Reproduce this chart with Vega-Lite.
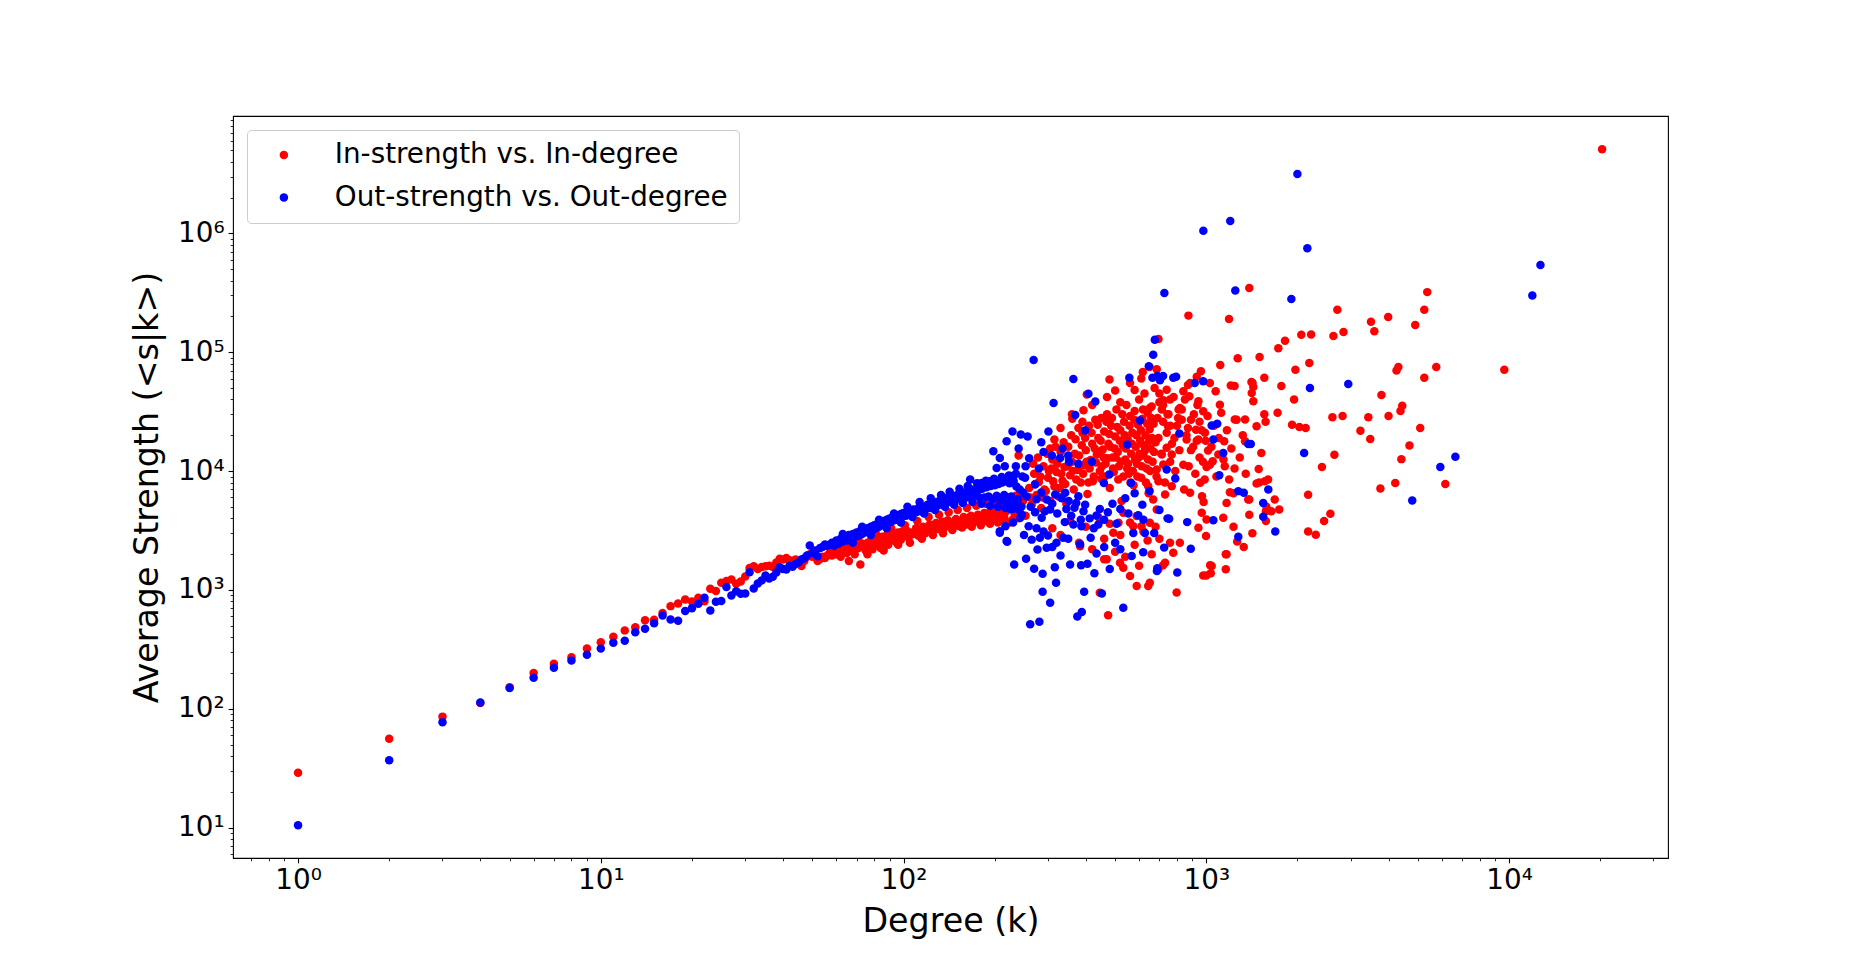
{
  "$schema": "https://vega.github.io/schema/vega-lite/v6.json",
  "description": "Average strength vs degree, in and out, log-log scatter.",
  "width": 1435,
  "height": 742,
  "autosize": {"type": "none"},
  "padding": {"left": 233, "top": 116, "right": 185, "bottom": 106},
  "background": "white",
  "config": {
    "view": {"stroke": "black", "strokeWidth": 1.1},
    "font": "DejaVu Sans",
    "axis": {
      "domain": false,
      "grid": false,
      "labelFont": "DejaVu Sans",
      "labelFontSize": 27.8,
      "labelColor": "black",
      "labelOverlap": false,
      "labelFlush": false,
      "tickColor": "black",
      "titleFont": "DejaVu Sans",
      "titleFontSize": 33.3,
      "titleFontWeight": "normal",
      "titleColor": "black"
    },
    "legend": {
      "orient": "top-left",
      "offset": 14,
      "padding": 11,
      "fillColor": "rgba(255,255,255,0.8)",
      "strokeColor": "#cccccc",
      "cornerRadius": 4,
      "labelFont": "DejaVu Sans",
      "labelFontSize": 27.8,
      "labelColor": "black",
      "labelLimit": 800,
      "symbolType": "circle",
      "symbolSize": 72,
      "symbolStrokeWidth": 0,
      "symbolOffset": 12,
      "labelOffset": 37,
      "rowPadding": 13.7
    }
  },
  "encoding": {
    "x": {
      "field": "k",
      "type": "quantitative",
      "scale": {"type": "log", "domain": [0.6097, 33510], "nice": false},
      "axis": {
        "title": "Degree (k)",
        "titlePadding": 11,
        "labelPadding": 4,
        "values": [0.7, 0.8, 0.9, 1, 2, 3, 4, 5, 6, 7, 8, 9, 10, 20, 30, 40, 50, 60, 70, 80, 90, 100, 200, 300, 400, 500, 600, 700, 800, 900, 1000, 2000, 3000, 4000, 5000, 6000, 7000, 8000, 9000, 10000, 20000, 30000],
        "labelExpr": "abs(log(datum.value)/LN10 - round(log(datum.value)/LN10)) < 1e-6 ? '10' + substring('⁰¹²³⁴⁵⁶⁷⁸⁹', round(log(datum.value)/LN10), round(log(datum.value)/LN10) + 1) : ''",
        "tickSize": {"condition": {"test": "abs(log(datum.value)/LN10 - round(log(datum.value)/LN10)) < 1e-6", "value": 4.9}, "value": 2.8},
        "tickWidth": {"condition": {"test": "abs(log(datum.value)/LN10 - round(log(datum.value)/LN10)) < 1e-6", "value": 1.1}, "value": 0.85}
      }
    },
    "y": {
      "field": "s",
      "type": "quantitative",
      "scale": {"type": "log", "domain": [5.563, 9696000], "nice": false},
      "axis": {
        "title": "Average Strength (<s|k>)",
        "titlePadding": 13,
        "labelPadding": 4,
        "values": [6, 7, 8, 9, 10, 20, 30, 40, 50, 60, 70, 80, 90, 100, 200, 300, 400, 500, 600, 700, 800, 900, 1000, 2000, 3000, 4000, 5000, 6000, 7000, 8000, 9000, 10000, 20000, 30000, 40000, 50000, 60000, 70000, 80000, 90000, 100000, 200000, 300000, 400000, 500000, 600000, 700000, 800000, 900000, 1000000, 2000000, 3000000, 4000000, 5000000, 6000000, 7000000, 8000000, 9000000],
        "labelExpr": "abs(log(datum.value)/LN10 - round(log(datum.value)/LN10)) < 1e-6 ? '10' + substring('⁰¹²³⁴⁵⁶⁷⁸⁹', round(log(datum.value)/LN10), round(log(datum.value)/LN10) + 1) : ''",
        "tickSize": {"condition": {"test": "abs(log(datum.value)/LN10 - round(log(datum.value)/LN10)) < 1e-6", "value": 4.9}, "value": 2.8},
        "tickWidth": {"condition": {"test": "abs(log(datum.value)/LN10 - round(log(datum.value)/LN10)) < 1e-6", "value": 1.1}, "value": 0.85}
      }
    }
  },
  "layer": [
    {
      "data": {"values": [
        {"k":1,"s":29},{"k":2,"s":56},{"k":3,"s":86},{"k":4,"s":112},{"k":5,"s":152},{"k":6,"s":200},{"k":7,"s":240},{"k":8,"s":272},{"k":9,"s":322},{"k":10,"s":364},
        {"k":11,"s":404},{"k":12,"s":457},{"k":13,"s":486},{"k":14,"s":555},{"k":15,"s":562},{"k":16,"s":640},{"k":17,"s":731},{"k":18,"s":769},{"k":19,"s":831},{"k":20,"s":800},
        {"k":21,"s":860},{"k":22,"s":805},{"k":23,"s":1025},{"k":24,"s":980},{"k":25,"s":1150},{"k":26,"s":1190},{"k":27,"s":1225},{"k":28,"s":1130},{"k":29,"s":1180},{"k":30,"s":1300},
        {"k":31,"s":1530},{"k":32,"s":1580},{"k":33,"s":1500},{"k":34,"s":1560},{"k":35,"s":1580},{"k":36,"s":1600},{"k":37,"s":1560},{"k":38,"s":1700},{"k":39,"s":1830},{"k":40,"s":1800},
        {"k":41,"s":1860},{"k":42,"s":1780},{"k":43,"s":1750},{"k":44,"s":1800},{"k":45,"s":1700},{"k":46,"s":1590},{"k":47,"s":1750},{"k":48,"s":1900},{"k":49,"s":2000},{"k":50,"s":1900},
        {"k":51,"s":1950},{"k":52,"s":1750},{"k":53,"s":1820},{"k":54,"s":1900},{"k":55,"s":1860},{"k":56,"s":1950},{"k":57,"s":2050},
        {"k":58,"s":1950},{"k":59,"s":2150},{"k":60,"s":2000},{"k":61,"s":2250},{"k":62,"s":1900},{"k":63,"s":2100},{"k":64,"s":2300},{"k":65,"s":2050},{"k":66,"s":2200},{"k":67,"s":2400},
        {"k":68,"s":2150},{"k":69,"s":2000},{"k":70,"s":2350},{"k":71,"s":2250},{"k":72,"s":1640},{"k":73,"s":2450},{"k":74,"s":2300},{"k":75,"s":2150},{"k":76,"s":2500},{"k":77,"s":2350},
        {"k":78,"s":2600},{"k":79,"s":2200},{"k":80,"s":2450},{"k":81,"s":2700},{"k":82,"s":2400},{"k":83,"s":2550},{"k":84,"s":2250},{"k":85,"s":2800},{"k":86,"s":2500},{"k":87,"s":2650},
        {"k":88,"s":2900},{"k":89,"s":2400},{"k":90,"s":2750},{"k":91,"s":2600},{"k":92,"s":3000},{"k":93,"s":2700},{"k":94,"s":2850},{"k":95,"s":2500},{"k":96,"s":3050},{"k":97,"s":2800},
        {"k":98,"s":2650},{"k":99,"s":3100},{"k":100,"s":2900},{"k":102,"s":3200},{"k":104,"s":2750},{"k":106,"s":3050},{"k":108,"s":2950},{"k":110,"s":3300},{"k":112,"s":2850},{"k":114,"s":3150},
        {"k":116,"s":3400},{"k":118,"s":3000},{"k":120,"s":3250},{"k":122,"s":3550},{"k":124,"s":3100},{"k":126,"s":3400},{"k":128,"s":3650},{"k":130,"s":3250},{"k":132,"s":3500},{"k":134,"s":3750},
        {"k":136,"s":3300},{"k":138,"s":3600},{"k":140,"s":3850},{"k":143,"s":3400},{"k":146,"s":3700},{"k":149,"s":3950},{"k":152,"s":3450},{"k":155,"s":3800},{"k":158,"s":4100},{"k":161,"s":3550},
        {"k":164,"s":3900},{"k":167,"s":4200},{"k":170,"s":3650},{"k":173,"s":4000},{"k":176,"s":4300},{"k":179,"s":3700},{"k":182,"s":4100},{"k":185,"s":4450},{"k":188,"s":3800},{"k":191,"s":4200},
        {"k":194,"s":4550},{"k":197,"s":3900},{"k":200,"s":4350},{"k":203,"s":4700},{"k":206,"s":4000},{"k":209,"s":4500},{"k":212,"s":4900},{"k":215,"s":4100},{"k":218,"s":4600},{"k":221,"s":5000},
        {"k":224,"s":3700},{"k":227,"s":4750},{"k":230,"s":5200},{"k":233,"s":4300},{"k":236,"s":4900},{"k":239,"s":5400},{"k":242,"s":4400},{"k":245,"s":5100},{"k":248,"s":5600},
        {"k":62,"s":2500},{"k":66,"s":1750},{"k":71,"s":2700},{"k":76,"s":2000},{"k":81,"s":3000},{"k":86,"s":2150},{"k":91,"s":3300},{"k":96,"s":2400},{"k":101,"s":3500},{"k":105,"s":2500},
        {"k":111,"s":3800},{"k":115,"s":2700},{"k":121,"s":4100},{"k":125,"s":2900},{"k":131,"s":4300},{"k":135,"s":3000},{"k":141,"s":4500},{"k":145,"s":3200},{"k":151,"s":4700},{"k":156,"s":3350},
        {"k":162,"s":4900},{"k":168,"s":3400},{"k":174,"s":5100},{"k":180,"s":3500},{"k":187,"s":5300},{"k":193,"s":3600},{"k":199,"s":5500},{"k":205,"s":3700},{"k":211,"s":5700},{"k":217,"s":3800},
        {"k":223,"s":6000},{"k":229,"s":3900},{"k":235,"s":6200},{"k":241,"s":4000},{"k":247,"s":6500},{"k":253,"s":4200},
        {"k":695,"s":129000},{"k":617,"s":68000},{"k":686,"s":72000},{"k":479,"s":59000},{"k":500,"s":47500},{"k":393,"s":32400},{"k":361,"s":27500},{"k":403,"s":44000},{"k":240,"s":13500},{"k":315,"s":18400},{"k":305,"s":15500},
        {"k":884,"s":6560},{"k":968,"s":6150},{"k":955,"s":7960},{"k":988,"s":8500},{"k":840,"s":11300},{"k":942,"s":18400},{"k":861,"s":18400},{"k":925,"s":22300},{"k":977,"s":31800},{"k":942,"s":38600},
        {"k":879,"s":42600},{"k":884,"s":55000},{"k":818,"s":34000},{"k":840,"s":46900},{"k":740,"s":48400},{"k":721,"s":39400},{"k":713,"s":32900},{"k":759,"s":39900},{"k":807,"s":28000},{"k":748,"s":23800},{"k":651,"s":34000},
        {"k":713,"s":13800},{"k":740,"s":15700},{"k":769,"s":13800},{"k":721,"s":11350},{"k":686,"s":10300},{"k":769,"s":7460},{"k":731,"s":6350},{"k":695,"s":8220},{"k":643,"s":7460},{"k":668,"s":5770},
        {"k":686,"s":4750},{"k":651,"s":3670},{"k":611,"s":3440},{"k":589,"s":4180},{"k":574,"s":3440},{"k":532,"s":4460},{"k":513,"s":3670},{"k":493,"s":3030},{"k":469,"s":1810},{"k":519,"s":1690},
        {"k":560,"s":1310},{"k":589,"s":1080},{"k":643,"s":1080},{"k":651,"s":1150},{"k":532,"s":1540},{"k":695,"s":1490},{"k":759,"s":2500},{"k":818,"s":2500},{"k":778,"s":2060},{"k":731,"s":1690},
        {"k":474,"s":612},{"k":445,"s":948},{"k":383,"s":2330},{"k":460,"s":1810},{"k":798,"s":950},{"k":966,"s":4460},{"k":942,"s":3330},{"k":998,"s":2840},{"k":977,"s":1320},{"k":873,"s":203000},
        {"k":960,"s":69000},{"k":930,"s":62000},{"k":870,"s":53000},{"k":720,"s":1610},
        {"k":260,"s":7200},{"k":265,"s":5200},{"k":270,"s":9500},{"k":275,"s":6300},{"k":280,"s":8100},{"k":285,"s":4900},{"k":290,"s":11000},{"k":295,"s":6800},{"k":300,"s":8800},{"k":305,"s":5600},
        {"k":310,"s":12500},{"k":315,"s":7400},{"k":320,"s":9800},{"k":325,"s":6100},{"k":330,"s":14500},{"k":335,"s":8300},{"k":340,"s":10800},{"k":345,"s":5300},{"k":350,"s":16000},{"k":355,"s":9200},
        {"k":360,"s":12000},{"k":365,"s":7000},{"k":370,"s":18500},{"k":375,"s":10200},{"k":380,"s":13500},{"k":385,"s":8000},{"k":390,"s":21000},{"k":395,"s":11200},{"k":400,"s":15000},{"k":405,"s":6400},
        {"k":410,"s":24000},{"k":415,"s":12400},{"k":420,"s":17000},{"k":425,"s":9000},{"k":430,"s":27000},{"k":435,"s":13800},{"k":440,"s":19000},{"k":445,"s":10000},{"k":450,"s":8600},{"k":455,"s":15200},
        {"k":460,"s":21500},{"k":465,"s":11500},{"k":470,"s":30000},{"k":475,"s":17000},{"k":480,"s":7200},{"k":485,"s":24000},{"k":490,"s":13000},{"k":495,"s":9800},{"k":500,"s":19500},{"k":505,"s":33000},
        {"k":510,"s":14500},{"k":515,"s":11000},{"k":520,"s":22000},{"k":525,"s":5600},{"k":530,"s":16500},{"k":535,"s":26000},{"k":540,"s":12500},{"k":545,"s":36000},{"k":550,"s":18500},{"k":555,"s":9500},
        {"k":560,"s":29000},{"k":565,"s":14000},{"k":570,"s":21000},{"k":575,"s":7600},{"k":580,"s":32000},{"k":585,"s":16000},{"k":590,"s":11500},{"k":595,"s":24500},{"k":600,"s":40000},{"k":605,"s":18000},
        {"k":610,"s":8800},{"k":615,"s":27500},{"k":620,"s":13500},{"k":625,"s":45000},{"k":630,"s":20000},{"k":635,"s":10500},{"k":640,"s":31000},{"k":645,"s":6500},{"k":650,"s":22500},{"k":655,"s":15500},
        {"k":660,"s":35000},{"k":665,"s":12000},{"k":670,"s":25000},{"k":675,"s":50000},{"k":680,"s":17500},{"k":685,"s":9000},{"k":690,"s":28000},{"k":695,"s":19000},{"k":700,"s":38000},{"k":710,"s":14000},
        {"k":720,"s":26000},{"k":730,"s":8000},{"k":740,"s":21000},{"k":750,"s":30000},{"k":760,"s":12000},{"k":770,"s":17000},{"k":780,"s":42000},{"k":790,"s":10000},{"k":800,"s":24000},{"k":815,"s":15000},
        {"k":830,"s":33000},{"k":845,"s":7000},{"k":860,"s":20000},{"k":875,"s":11000},{"k":890,"s":27000},{"k":905,"s":16000},{"k":920,"s":9500},{"k":935,"s":36000},{"k":950,"s":13000},{"k":965,"s":22000},
        {"k":980,"s":5500},{"k":995,"s":18000},
        {"k":310,"s":3300},{"k":330,"s":2900},{"k":355,"s":3800},{"k":380,"s":2500},{"k":400,"s":3400},{"k":420,"s":2200},{"k":440,"s":4100},{"k":460,"s":2700},{"k":480,"s":3600},{"k":500,"s":2100},
        {"k":520,"s":2900},{"k":540,"s":1900},{"k":560,"s":3700},{"k":580,"s":2400},{"k":600,"s":1600},{"k":620,"s":3100},{"k":640,"s":2600},{"k":660,"s":2000},{"k":680,"s":3400},{"k":700,"s":2700},
        {"k":262,"s":6000},{"k":272,"s":7800},{"k":283,"s":9000},{"k":292,"s":7000},{"k":302,"s":10000},{"k":312,"s":8200},{"k":322,"s":11500},{"k":332,"s":9500},{"k":342,"s":7800},{"k":352,"s":12500},
        {"k":362,"s":10000},{"k":372,"s":8500},{"k":382,"s":11000},{"k":392,"s":9500},{"k":402,"s":12000},{"k":412,"s":10500},{"k":422,"s":8200},{"k":432,"s":11800},{"k":442,"s":14500},{"k":452,"s":11000},
        {"k":462,"s":9000},{"k":472,"s":12800},{"k":482,"s":16000},{"k":492,"s":10500},{"k":502,"s":13000},{"k":512,"s":8500},{"k":522,"s":12000},{"k":532,"s":9000},{"k":542,"s":15500},{"k":552,"s":11500},
        {"k":562,"s":8000},{"k":572,"s":10000},{"k":582,"s":12500},{"k":592,"s":9000},{"k":602,"s":14000},{"k":612,"s":11000},{"k":622,"s":16500},{"k":632,"s":8000},{"k":642,"s":12500},{"k":652,"s":10000},
        {"k":662,"s":19000},{"k":672,"s":14500},
        {"k":268,"s":11500},{"k":278,"s":13000},{"k":288,"s":6000},{"k":298,"s":14000},{"k":308,"s":10500},{"k":318,"s":16000},{"k":328,"s":7200},{"k":338,"s":17500},{"k":348,"s":11000},{"k":358,"s":20000},
        {"k":368,"s":14000},{"k":378,"s":23000},{"k":388,"s":16500},{"k":398,"s":19000},{"k":408,"s":8000},{"k":418,"s":21000},{"k":428,"s":15500},{"k":438,"s":24500},{"k":448,"s":18000},{"k":458,"s":13000},
        {"k":468,"s":26000},{"k":478,"s":20500},{"k":488,"s":28000},{"k":498,"s":15500},{"k":508,"s":23500},{"k":518,"s":18000},{"k":528,"s":30000},{"k":538,"s":20000},{"k":548,"s":10500},{"k":558,"s":24000},
        {"k":568,"s":17000},{"k":578,"s":27000},{"k":588,"s":20000},{"k":598,"s":13000},{"k":608,"s":22000},{"k":618,"s":33000},{"k":628,"s":15000},{"k":638,"s":25000},{"k":648,"s":18000},{"k":658,"s":28000},
        {"k":330,"s":23000},{"k":360,"s":30000},{"k":420,"s":36000},{"k":450,"s":28000},{"k":470,"s":42000},{"k":390,"s":26000},{"k":560,"s":55000},{"k":520,"s":38000},{"k":610,"s":60000},{"k":650,"s":75000},{"k":580,"s":48000},
        {"k":700,"s":45000},{"k":720,"s":36000},{"k":745,"s":30000},{"k":760,"s":24000},{"k":785,"s":19000},{"k":810,"s":33000},{"k":830,"s":27000},{"k":850,"s":40000},{"k":870,"s":23000},{"k":890,"s":15000},
        {"k":910,"s":30000},{"k":930,"s":18000},{"k":950,"s":26000},{"k":975,"s":12000},{"k":990,"s":21000},{"k":1010,"s":29000},{"k":1040,"s":16000},{"k":1060,"s":24000},{"k":1080,"s":9000},{"k":1100,"s":19000},
        {"k":1120,"s":31000},{"k":1140,"s":12500},{"k":1170,"s":22000},{"k":1190,"s":8500},{"k":1210,"s":15500},{"k":1240,"s":10500},{"k":1260,"s":27000},{"k":1290,"s":13000},{"k":1320,"s":20000},{"k":1350,"s":9500},
        {"k":20300,"s":5100000},{"k":1387,"s":347000},{"k":1189,"s":190000},{"k":5370,"s":320000},{"k":5250,"s":227000},{"k":2710,"s":227000},{"k":3990,"s":198000},{"k":4900,"s":169000},{"k":3500,"s":180000},{"k":3590,"s":150000},
        {"k":2630,"s":137000},{"k":2840,"s":148000},{"k":2060,"s":140000},{"k":2220,"s":141000},{"k":1820,"s":125000},{"k":1730,"s":108000},{"k":1500,"s":91000},{"k":1270,"s":89000},{"k":1112,"s":78000},{"k":2190,"s":81000},
        {"k":1970,"s":71000},{"k":9650,"s":71000},{"k":4310,"s":75000},{"k":4250,"s":70000},{"k":5750,"s":75000},{"k":5250,"s":61000},{"k":1555,"s":61000},{"k":1240,"s":52000},{"k":1770,"s":52000},{"k":1410,"s":56000},
        {"k":1430,"s":51000},{"k":3790,"s":43700},{"k":1950,"s":40000},{"k":4440,"s":35500},{"k":4380,"s":32000},{"k":4000,"s":29000},{"k":1720,"s":31000},{"k":1555,"s":30000},{"k":1570,"s":26000},{"k":2610,"s":28300},
        {"k":2820,"s":29000},{"k":3430,"s":28300},{"k":5090,"s":23000},{"k":1920,"s":24500},{"k":2030,"s":23500},{"k":2130,"s":23000},{"k":3230,"s":21800},{"k":3480,"s":18600},{"k":4690,"s":16400},{"k":4410,"s":12600},
        {"k":6160,"s":7800},{"k":4210,"s":7950},{"k":3760,"s":7130},{"k":2650,"s":13700},{"k":2410,"s":10800},{"k":2170,"s":6310},{"k":2570,"s":4370},{"k":2450,"s":3800},{"k":2170,"s":3100},{"k":2300,"s":2910},
        {"k":1520,"s":14200},{"k":1490,"s":10400},{"k":1495,"s":8000},{"k":1560,"s":8200},{"k":1580,"s":5000},{"k":1640,"s":4600},{"k":1387,"s":4300},{"k":1387,"s":5760},{"k":1230,"s":6500},{"k":1265,"s":2560},
        {"k":1160,"s":2000},{"k":1160,"s":1490},{"k":1030,"s":1610},{"k":1035,"s":1380},{"k":1000,"s":1320},{"k":1330,"s":2300},{"k":1420,"s":3000},{"k":1230,"s":3400},
        {"k":1343,"s":27100},{"k":1242,"s":27100},{"k":1205,"s":52400},{"k":1466,"s":23800},{"k":1430,"s":38600},{"k":1413,"s":45400},{"k":1422,"s":55000},{"k":1343,"s":17800},{"k":1197,"s":6640},{"k":1167,"s":5400},
        {"k":1138,"s":4050},{"k":1167,"s":2000},{"k":1042,"s":1590},{"k":1002,"s":3920},{"k":1002,"s":10800},{"k":1028,"s":11300},{"k":1151,"s":11000},{"k":1050,"s":12100},{"k":1096,"s":13800},{"k":1146,"s":17800},
        {"k":1014,"s":14900},{"k":1028,"s":55000},{"k":1074,"s":46900},{"k":1109,"s":36200},{"k":1600,"s":8500},{"k":1466,"s":7870},{"k":1376,"s":5770},{"k":1574,"s":4600},{"k":1742,"s":4750},{"k":1683,"s":5770},
        {"k":1574,"s":3800}
      ]},
      "mark": {"type": "circle", "size": 72, "opacity": 1},
      "encoding": {
        "color": {
          "datum": "In-strength vs. In-degree",
          "type": "nominal",
          "scale": {"domain": ["In-strength vs. In-degree", "Out-strength vs. Out-degree"], "range": ["#ff0000", "#0000ff"]},
          "legend": {"title": null}
        }
      }
    },
    {
      "data": {"values": [
        {"k":1,"s":10.5},{"k":2,"s":37},{"k":3,"s":77},{"k":4,"s":113},{"k":5,"s":150},{"k":6,"s":183},{"k":7,"s":222},{"k":8,"s":255},{"k":9,"s":285},{"k":10,"s":321},
        {"k":11,"s":360},{"k":12,"s":374},{"k":13,"s":441},{"k":14,"s":472},{"k":15,"s":524},{"k":16,"s":611},{"k":17,"s":563},{"k":18,"s":550},{"k":19,"s":664},{"k":20,"s":703},
        {"k":21,"s":765},{"k":22,"s":860},{"k":23,"s":673},{"k":24,"s":796},{"k":25,"s":806},{"k":26,"s":1057},{"k":27,"s":900},{"k":28,"s":977},{"k":29,"s":930},{"k":30,"s":934},
        {"k":31,"s":1410},{"k":32,"s":1028},{"k":33,"s":1133},{"k":34,"s":1200},{"k":35,"s":1324},{"k":36,"s":1250},{"k":37,"s":1289},{"k":38,"s":1400},{"k":39,"s":1555},{"k":40,"s":1500},
        {"k":41,"s":1486},{"k":42,"s":1600},{"k":43,"s":1564},{"k":44,"s":1650},{"k":45,"s":1700},{"k":46,"s":1804},{"k":47,"s":1850},{"k":48,"s":1950},{"k":49,"s":2365},{"k":50,"s":2050},
        {"k":51,"s":2150},{"k":52,"s":1923},{"k":53,"s":2250},{"k":54,"s":2300},{"k":55,"s":2410},{"k":56,"s":2350},{"k":57,"s":2400},
        {"k":58,"s":2500},{"k":59,"s":2350},{"k":60,"s":2600},{"k":61,"s":2450},{"k":62,"s":2700},{"k":63,"s":2550},{"k":64,"s":2800},{"k":65,"s":2600},{"k":66,"s":2900},{"k":67,"s":2700},
        {"k":68,"s":2950},{"k":69,"s":2800},{"k":70,"s":3050},{"k":71,"s":2850},{"k":72,"s":3150},{"k":73,"s":2950},{"k":74,"s":3250},{"k":75,"s":3050},{"k":76,"s":3300},{"k":77,"s":3150},
        {"k":78,"s":3400},{"k":79,"s":3200},{"k":80,"s":3500},{"k":81,"s":3300},{"k":82,"s":3600},{"k":83,"s":3400},{"k":84,"s":3700},{"k":85,"s":3500},{"k":86,"s":3800},{"k":87,"s":3550},
        {"k":88,"s":3900},{"k":89,"s":3650},{"k":90,"s":4000},{"k":91,"s":3750},{"k":92,"s":4100},{"k":93,"s":3850},{"k":94,"s":4150},{"k":95,"s":3900},{"k":96,"s":4250},{"k":97,"s":4000},
        {"k":98,"s":4350},{"k":99,"s":4100},{"k":100,"s":4450},{"k":102,"s":4200},{"k":104,"s":4600},{"k":106,"s":4350},{"k":108,"s":4750},{"k":110,"s":4500},{"k":112,"s":4900},{"k":114,"s":4600},
        {"k":116,"s":5000},{"k":118,"s":4750},{"k":120,"s":5200},{"k":122,"s":4900},{"k":124,"s":5350},{"k":126,"s":5000},{"k":128,"s":5500},{"k":130,"s":5150},{"k":132,"s":5650},{"k":134,"s":5300},
        {"k":136,"s":5800},{"k":138,"s":5400},{"k":140,"s":6000},{"k":143,"s":5500},{"k":146,"s":6200},{"k":149,"s":5700},{"k":152,"s":6400},{"k":155,"s":5850},{"k":158,"s":6600},{"k":161,"s":6000},
        {"k":164,"s":6800},{"k":167,"s":6100},{"k":170,"s":7000},{"k":173,"s":6250},{"k":176,"s":6800},{"k":179,"s":5900},{"k":182,"s":7100},{"k":185,"s":6000},{"k":188,"s":7300},{"k":191,"s":6100},
        {"k":194,"s":7500},{"k":197,"s":5800},{"k":200,"s":7600},{"k":203,"s":6200},{"k":206,"s":7800},{"k":209,"s":5600},{"k":212,"s":8000},{"k":215,"s":6300},{"k":218,"s":8200},{"k":221,"s":5500},
        {"k":224,"s":7900},{"k":227,"s":6100},{"k":230,"s":8400},{"k":233,"s":5300},{"k":236,"s":7400},{"k":239,"s":5800},{"k":242,"s":7000},{"k":245,"s":5000},{"k":248,"s":6600},
        {"k":63,"s":2950},{"k":68,"s":2500},{"k":73,"s":3400},{"k":78,"s":2900},{"k":83,"s":3900},{"k":88,"s":3300},{"k":93,"s":4400},{"k":98,"s":3700},{"k":103,"s":5000},{"k":107,"s":4100},
        {"k":113,"s":5500},{"k":117,"s":4400},{"k":123,"s":5900},{"k":127,"s":4700},{"k":133,"s":6300},{"k":137,"s":5000},{"k":142,"s":6700},{"k":147,"s":5200},{"k":153,"s":7100},{"k":157,"s":5400},
        {"k":163,"s":7500},{"k":169,"s":5500},{"k":175,"s":7900},{"k":181,"s":5300},{"k":187,"s":8300},{"k":193,"s":5100},{"k":199,"s":8600},{"k":205,"s":5000},{"k":211,"s":8900},{"k":217,"s":4900},
        {"k":223,"s":9200},{"k":229,"s":4800},{"k":235,"s":9500},{"k":241,"s":4700},{"k":247,"s":9000},
        {"k":219,"s":17800},{"k":198,"s":14700},{"k":208,"s":12900},{"k":203,"s":10600},{"k":216,"s":11000},{"k":166,"s":8500},{"k":181,"s":7940},{"k":219,"s":2580},{"k":232,"s":1640},{"k":208,"s":3030},
        {"k":269,"s":86000},{"k":364,"s":59600},{"k":313,"s":37400},{"k":408,"s":44800},{"k":430,"s":38400},{"k":369,"s":29600},{"k":398,"s":21900},{"k":301,"s":21500},{"k":229,"s":21500},{"k":244,"s":20300},
        {"k":257,"s":19500},{"k":260,"s":12800},{"k":235,"s":11000},{"k":253,"s":11000},{"k":335,"s":15500},{"k":309,"s":13500},{"k":329,"s":12900},{"k":352,"s":11900},{"k":378,"s":11500},{"k":419,"s":12000},
        {"k":604,"s":26600},{"k":815,"s":20700},{"k":548,"s":16700},{"k":478,"s":9350},{"k":459,"s":7950},{"k":564,"s":7950},{"k":740,"s":10300},{"k":790,"s":8650},{"k":916,"s":55000},{"k":977,"s":57000},
        {"k":676,"s":127000},{"k":668,"s":95000},{"k":646,"s":76000},{"k":664,"s":61000},{"k":703,"s":58000},{"k":557,"s":61000},{"k":778,"s":61000},{"k":1042,"s":24200},{"k":1087,"s":25000},{"k":1055,"s":18400},
        {"k":1138,"s":14200},{"k":1104,"s":9230},{"k":1376,"s":16900},{"k":1403,"s":16900},{"k":1276,"s":6780},{"k":1330,"s":6560},{"k":1603,"s":7000},{"k":1542,"s":5400},{"k":1542,"s":4130},{"k":1690,"s":3100},
        {"k":1276,"s":2800},{"k":2200,"s":50000},{"k":2105,"s":14200},{"k":2945,"s":54000},{"k":1055,"s":3850},{"k":889,"s":2220},{"k":865,"s":3720},{"k":754,"s":3970},{"k":726,"s":2270},{"k":689,"s":1520},
        {"k":802,"s":1400},{"k":619,"s":2080},{"k":567,"s":1930},{"k":673,"s":3020},{"k":627,"s":3020},{"k":574,"s":3020},{"k":596,"s":4250},{"k":553,"s":4390},{"k":615,"s":5220},{"k":532,"s":710},
        {"k":452,"s":935},{"k":395,"s":966},{"k":388,"s":653},{"k":375,"s":597},{"k":281,"s":541},{"k":262,"s":514},{"k":305,"s":780},{"k":288,"s":966},{"k":319,"s":1150},{"k":288,"s":1370},
        {"k":270,"s":1510},{"k":254,"s":1830},{"k":316,"s":1550},{"k":355,"s":1640},{"k":386,"s":1610},{"k":405,"s":1660},{"k":427,"s":1380},{"k":434,"s":2030},{"k":383,"s":2420},{"k":337,"s":2750},
        {"k":320,"s":2490},{"k":277,"s":2190},{"k":297,"s":2260},{"k":265,"s":2650},{"k":282,"s":2750},{"k":300,"s":2870},{"k":220,"s":2540},{"k":208,"s":3120},{"k":217,"s":3440},{"k":341,"s":3720},
        {"k":364,"s":3550},{"k":387,"s":3440},{"k":434,"s":4220},{"k":440,"s":3550},{"k":473,"s":4510},{"k":393,"s":4600},{"k":317,"s":6350},{"k":342,"s":6560},{"k":351,"s":5590},{"k":367,"s":4910},
        {"k":378,"s":6150},{"k":297,"s":5770},{"k":305,"s":4750},{"k":286,"s":4050},{"k":272,"s":4510},{"k":259,"s":3440},{"k":243,"s":4050},{"k":272,"s":7710},{"k":252,"s":8770},{"k":231,"s":8220},
        {"k":208,"s":7960},{"k":193,"s":8220},
        {"k":225,"s":4800},{"k":235,"s":5600},{"k":246,"s":4300},{"k":255,"s":6100},{"k":263,"s":5000},{"k":275,"s":5800},{"k":285,"s":6600},{"k":293,"s":4600},{"k":310,"s":5300},{"k":322,"s":4400},
        {"k":333,"s":5900},{"k":345,"s":4800},{"k":358,"s":4200},{"k":372,"s":5400},{"k":385,"s":3900},{"k":398,"s":5200},{"k":412,"s":4000},{"k":425,"s":3300},{"k":445,"s":4800},{"k":460,"s":3900},
        {"k":490,"s":5300},{"k":505,"s":3600},{"k":520,"s":4800},{"k":540,"s":5900},{"k":580,"s":6500},{"k":620,"s":3900},{"k":650,"s":6800},{"k":700,"s":4700},{"k":230,"s":3700},{"k":250,"s":2900},
        {"k":275,"s":3300},{"k":290,"s":3100},{"k":310,"s":2300},{"k":330,"s":1950},{"k":350,"s":2700},{"k":415,"s":2750},{"k":460,"s":2300},{"k":500,"s":2500},{"k":480,"s":1500},{"k":520,"s":2200},
        {"k":240,"s":15500},{"k":280,"s":10500},{"k":290,"s":14500},{"k":350,"s":13500},{"k":285,"s":17500},
        {"k":2000,"s":3160000},{"k":1200,"s":1270000},{"k":978,"s":1050000},{"k":2157,"s":750000},{"k":12700,"s":540000},{"k":11940,"s":300000},{"k":727,"s":315000},{"k":1247,"s":330000},{"k":1910,"s":280000},{"k":6650,"s":13200},
        {"k":5930,"s":10800},{"k":4790,"s":5650},{"k":687,"s":1440},{"k":745,"s":4000},{"k":795,"s":62000},{"k":690,"s":63000},{"k":720,"s":63000}
      ]},
      "mark": {"type": "circle", "size": 72, "opacity": 1},
      "encoding": {
        "color": {
          "datum": "Out-strength vs. Out-degree",
          "type": "nominal",
          "legend": {"title": null}
        }
      }
    }
  ]
}
